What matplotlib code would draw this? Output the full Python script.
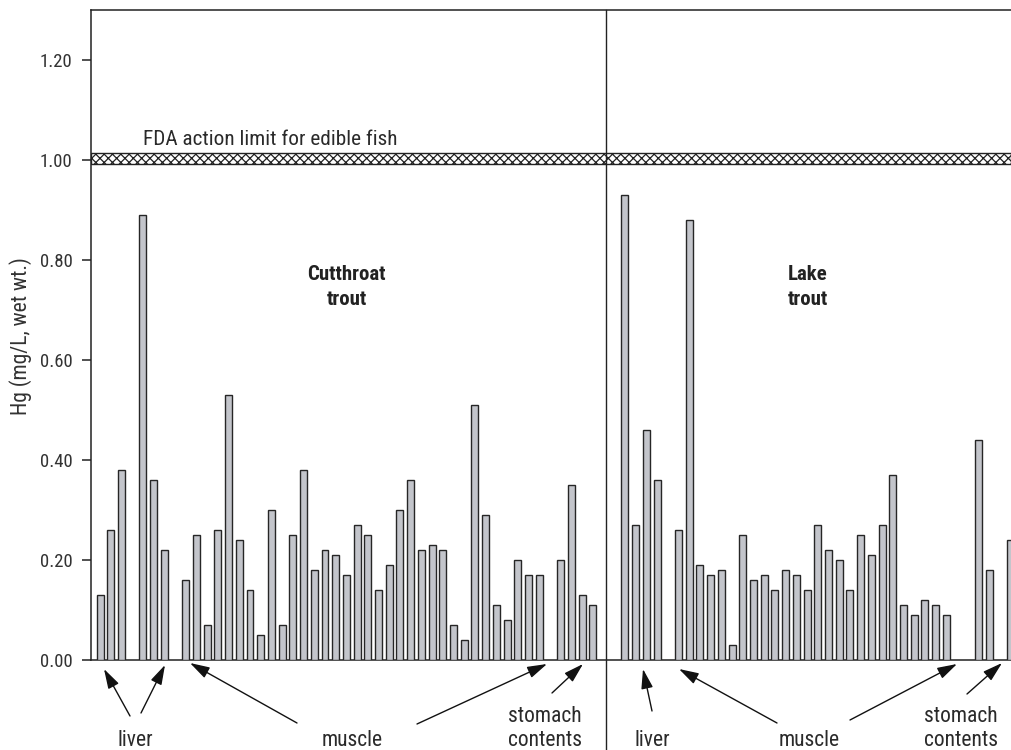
import numpy as np
import matplotlib
matplotlib.use("Agg")
import matplotlib.pyplot as plt

plt.rcParams['font.family'] = ['Roboto Condensed', 'DejaVu Sans']
plt.rcParams['hatch.linewidth'] = 0.9

# Hg concentrations (mg/L, wet wt.) per sample
cut_liver_a = [0.13, 0.26, 0.38]
cut_liver_b = [0.89, 0.36, 0.22]
cut_muscle = [0.16, 0.25, 0.07, 0.26, 0.53, 0.24, 0.14, 0.05, 0.30, 0.07,
              0.25, 0.38, 0.18, 0.22, 0.21, 0.17, 0.27, 0.25, 0.14, 0.19,
              0.30, 0.36, 0.22, 0.23, 0.22, 0.07, 0.04, 0.51, 0.29, 0.11,
              0.08, 0.20, 0.17, 0.17]
cut_stomach = [0.20, 0.35, 0.13, 0.11]
lake_liver = [0.93, 0.27, 0.46, 0.36]
lake_muscle = [0.26, 0.88, 0.19, 0.17, 0.18, 0.03, 0.25, 0.16, 0.17, 0.14,
               0.18, 0.17, 0.14, 0.27, 0.22, 0.20, 0.14, 0.25, 0.21, 0.27,
               0.37, 0.11, 0.09, 0.12, 0.11, 0.09]
lake_stomach = [0.44, 0.18, np.nan, 0.24]

fda_limit = 1.0
yticks = [0.0, 0.2, 0.4, 0.6, 0.8, 1.0, 1.2]

# groups in plotting order with the number of empty slots after each
layout = [(cut_liver_a, 1), (cut_liver_b, 1), (cut_muscle, 1), (cut_stomach, 2),
          (lake_liver, 1), (lake_muscle, 2), (lake_stomach, 0)]

xs, hs = [], []
pos = 0
for vals, gap in layout:
    for v in vals:
        if not np.isnan(v):
            xs.append(pos)
            hs.append(v)
        pos += 1
    pos += gap

W, H = 1011, 750
fig = plt.figure(figsize=(W / 100, H / 100), dpi=100)
ax = fig.add_axes([90.5 / W, 90 / H, (W - 90.5) / W, (660 - 9.5) / H])

ax.bar(xs, hs, width=0.65, color='#c3c5cb', edgecolor='#262626', linewidth=1.0, zorder=3)

ax.set_xlim(-0.89, 85.04)
ax.set_ylim(0, 1.301)

# FDA action limit band
ax.axhspan(fda_limit - 0.007, fda_limit + 0.015, facecolor='white', edgecolor='#222222',
           hatch='xxxx', linewidth=1.0, zorder=2)
ax.text(3.97, 1.03, 'FDA action limit for edible fish', fontsize=15.3,
        color='#2a2a2a', va='baseline', ha='left')

# species divider
ax.plot([47.2, 47.2], [-0.18, 1.301], color='#222222', lw=1.0, clip_on=False, zorder=4)

# species titles
for x, (l1, l2) in [(23.0, ('Cutthroat', 'trout')), (66.1, ('Lake', 'trout'))]:
    ax.text(x, (660 - 280.5) / 500, l1, fontsize=15, fontweight='bold', ha='center',
            va='baseline', color='#222222')
    ax.text(x, (660 - 305) / 500, l2, fontsize=15, fontweight='bold', ha='center',
            va='baseline', color='#222222')

ax.spines['right'].set_visible(False)
for side in ['left', 'top', 'bottom']:
    ax.spines[side].set_linewidth(1.1)
    ax.spines[side].set_color('#222222')

ax.set_yticks(yticks)
ax.set_yticklabels([f'{t:.2f}' for t in yticks])
ax.set_xticks([])
ax.tick_params(axis='y', direction='out', length=6.8, width=1.1, pad=6,
               labelsize=13.5, labelcolor='#333333', color='#222222')
fig.text(27 / W, 1 - 336.5 / H, 'Hg (mg/L, wet wt.)', fontsize=15.5, color='#333333',
         rotation=90, rotation_mode='anchor', ha='center', va='baseline')


def fp(x, y):
    return (x, H - y)


# sample-type labels (centre x, baseline y in pixels)
labels = [('liver', 135, 746.5), ('muscle', 352, 746.5),
          ('stomach', 545, 722), ('contents', 545, 746.5),
          ('liver', 652, 746.5), ('muscle', 809, 746.5),
          ('stomach', 961, 722), ('contents', 961, 746.5)]
for txt, x, y in labels:
    fig.text(x / W, 1 - y / H, txt, fontsize=15.5, ha='center', va='baseline',
             color='#2a2a2a')

arrows = [((130, 716), (104, 669)), ((141, 713), (165, 665)),
          ((297, 723), (190, 663)), ((417, 724), (547, 664)),
          ((552, 693), (583, 664)),
          ((652, 711), (643, 669)), ((777, 723), (679, 669)),
          ((850, 720), (957, 664)), ((967, 694), (1002, 663))]
for (x0, y0), (x1, y1) in arrows:
    ax.annotate('', xy=fp(x1, y1), xytext=fp(x0, y0), xycoords='figure pixels',
                textcoords='figure pixels', annotation_clip=False,
                arrowprops=dict(arrowstyle='-|>,head_length=1.0,head_width=0.3',
                                color='#111111', lw=1.0, shrinkA=0, shrinkB=0,
                                mutation_scale=12))

fig.savefig('out.png', dpi=100)
